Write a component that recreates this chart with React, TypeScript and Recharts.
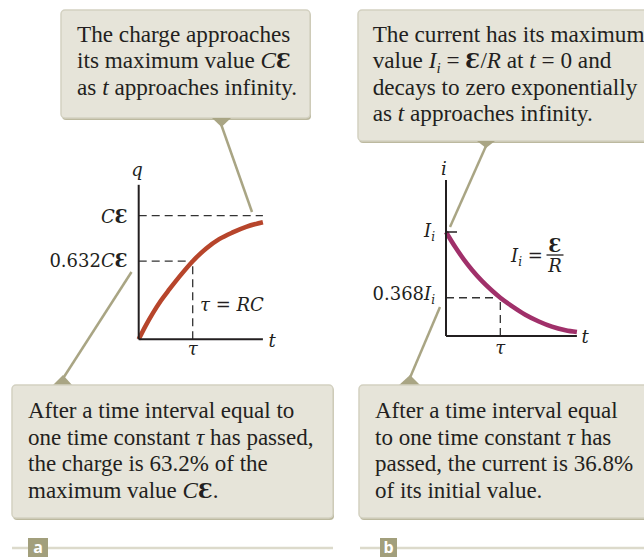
import React from 'react';
import { LineChart, Line, XAxis, YAxis, ReferenceLine } from 'recharts';

// Charging capacitor: charge q (in units of CƐ) against time (in units of τ)
const chargeTime = [0, 0.135, 0.26, 0.41, 0.57, 0.75, 1, 1.25, 1.49, 1.74, 1.99, 2.3];
const chargeValue = [0, 0.115, 0.21, 0.312, 0.405, 0.505, 0.632, 0.735, 0.81, 0.865, 0.91, 0.947];
const chargeTicks = [0.632, 1];
const chargeTickPrefix = ['0.632', ''];

// Charging current: i (in units of I_i) against time (in units of τ)
const currentTime = [0, 0.17, 0.33, 0.48, 0.66, 0.85, 1, 1.22, 1.46, 1.71, 1.95, 2.2, 2.41];
const currentValue = [1, 0.855, 0.735, 0.635, 0.53, 0.435, 0.368, 0.285, 0.205, 0.14, 0.09, 0.056, 0.038];
const currentTicks = [0.368, 1];
const currentTickPrefix = ['0.368', ''];

const timeTicks = [1];
const timeTickLabels = ['τ'];

const chargeData = chargeTime.map((t, k) => ({ t, q: chargeValue[k] }));
const currentData = currentTime.map((t, k) => ({ t, i: currentValue[k] }));

const INK = '#231f20';
const KHAKI = '#a9a584';
const BOX_FILL = '#e6e4d9';
const textFont = '"Liberation Serif", "Times New Roman", serif';
const mathFont = '"DejaVu Serif", serif';
const DASH = '8 5';

const ChargeTick = (props: any) => {
  const { x, y, payload } = props;
  const k = chargeTicks.indexOf(payload.value);
  return (
    <text x={x - 11} y={y + (k === 1 ? 7 : 6)} textAnchor="end" fontFamily={mathFont} fontSize={18} fill={INK}>
      {chargeTickPrefix[k]}
      <tspan fontStyle="italic">C</tspan>
      <tspan fontWeight="bold">Ɛ</tspan>
    </text>
  );
};

const CurrentTick = (props: any) => {
  const { x, y, payload } = props;
  const k = currentTicks.indexOf(payload.value);
  return (
    <g>
      {k === 1 && <line x1={x} x2={x + 11} y1={y} y2={y} stroke={INK} strokeWidth={1.5} />}
      <text x={x - 11} y={y + (k === 1 ? 5 : 2)} textAnchor="end" fontFamily={mathFont} fontSize={18} fill={INK}>
        {currentTickPrefix[k]}
        <tspan fontStyle="italic">I</tspan>
        <tspan fontStyle="italic" fontSize={12} dy={4}>i</tspan>
      </text>
    </g>
  );
};

const makeTimeTick = (dy: number) => (props: any) => {
  const { x, y, payload } = props;
  const k = timeTicks.indexOf(payload.value);
  return (
    <text x={x} y={y + dy} textAnchor="middle" fontFamily={mathFont} fontStyle="italic" fontSize={18} fill={INK}>
      {timeTickLabels[k]}
    </text>
  );
};

type Seg = { s: string; it?: boolean; b?: boolean; sub?: boolean };

function Lines({ x, y0, gap, size, lines }: { x: number; y0: number; gap: number; size: number; lines: Seg[][] }) {
  return (
    <g fontFamily={textFont} fontSize={size} fill={INK}>
      {lines.map((segs, li) => {
        let shift = 0;
        return (
          <text key={li} x={x} y={y0 + li * gap}>
            {segs.map((g, k) => {
              let dy = 0;
              if (g.sub) {
                dy = size * 0.22 - shift;
                shift = size * 0.22;
              } else if (shift) {
                dy = -shift;
                shift = 0;
              }
              return (
                <tspan
                  key={k}
                  dy={dy || undefined}
                  fontStyle={g.it || g.sub ? 'italic' : undefined}
                  fontWeight={g.b ? 'bold' : undefined}
                  fontFamily={g.b ? mathFont : undefined}
                  fontSize={g.sub ? size * 0.65 : g.b ? size * 0.9 : undefined}
                >
                  {g.s}
                </tspan>
              );
            })}
          </text>
        );
      })}
    </g>
  );
}

function Callout({ x, y, w, h }: { x: number; y: number; w: number; h: number }) {
  return (
    <g>
      <rect x={x + 1} y={y + 2} width={w} height={h} rx={4} fill="#bcb99f" />
      <rect x={x} y={y} width={w} height={h} rx={4} fill={BOX_FILL} stroke="#d3d1c1" strokeWidth={1.5} />
    </g>
  );
}

function Annotations() {
  return (
    <svg width={644} height={557} style={{ position: 'absolute', left: 0, top: 0, pointerEvents: 'none' }}>
      {/* leader lines */}
      <g stroke={KHAKI} strokeWidth={2.5} fill="none">
        <line x1={221} y1={124} x2={252} y2={212} />
        <line x1={486} y1={146} x2={450} y2={227} />
        <line x1={62} y1={380} x2={131.5} y2={272} />
        <line x1={409} y1={380} x2={440} y2={307} />
      </g>
      {/* top callouts */}
      <Callout x={61} y={10} w={249} h={108} />
      <polygon points="212,118 231,118 221.5,127" fill={KHAKI} />
      <Callout x={358} y={10} w={310} h={131} />
      <polygon points="477,141 495,141 486,148" fill={KHAKI} />
      {/* bottom callouts */}
      <polygon points="52,386 73,386 63,375" fill={KHAKI} />
      <Callout x={12} y={385} w={321} h={133} />
      <polygon points="398,386 421,386 410,375" fill={KHAKI} />
      <Callout x={359} y={385} w={310} h={133} />

      <Lines
        x={77}
        y0={41.7}
        gap={26.7}
        size={23.2}
        lines={[
          [{ s: 'The charge approaches' }],
          [{ s: 'its maximum value ' }, { s: 'C', it: true }, { s: 'Ɛ', b: true }],
          [{ s: 'as ' }, { s: 't', it: true }, { s: ' approaches infinity.' }],
        ]}
      />
      <Lines
        x={372.7}
        y0={41.7}
        gap={26.4}
        size={23.2}
        lines={[
          [{ s: 'The current has its maximum' }],
          [
            { s: 'value ' },
            { s: 'I', it: true },
            { s: 'i', sub: true },
            { s: ' = ' },
            { s: 'Ɛ', b: true },
            { s: '/' },
            { s: 'R', it: true },
            { s: ' at ' },
            { s: 't', it: true },
            { s: ' = 0 and' },
          ],
          [{ s: 'decays to zero exponentially' }],
          [{ s: 'as ' }, { s: 't', it: true }, { s: ' approaches infinity.' }],
        ]}
      />
      <Lines
        x={28}
        y0={418.3}
        gap={26.5}
        size={23}
        lines={[
          [{ s: 'After a time interval equal to' }],
          [{ s: 'one time constant ' }, { s: 'τ', it: true }, { s: ' has passed,' }],
          [{ s: 'the charge is 63.2% of the' }],
          [{ s: 'maximum value ' }, { s: 'C', it: true }, { s: 'Ɛ', b: true }, { s: '.' }],
        ]}
      />
      <Lines
        x={375}
        y0={418.3}
        gap={26.5}
        size={23}
        lines={[
          [{ s: 'After a time interval equal' }],
          [{ s: 'to one time constant ' }, { s: 'τ', it: true }, { s: ' has' }],
          [{ s: 'passed, the current is 36.8%' }],
          [{ s: 'of its initial value.' }],
        ]}
      />

      {/* axis names and formulas */}
      <g fontFamily={mathFont} fontStyle="italic" fontSize={18} fill={INK}>
        <text x={137} y={176} textAnchor="middle">q</text>
        <text x={272} y={347} textAnchor="middle">t</text>
        <text x={444} y={175} textAnchor="middle">i</text>
        <text x={585} y={343} textAnchor="middle">t</text>
        <text x={200} y={311}>
          τ<tspan fontStyle="normal"> = </tspan>RC
        </text>
        <text x={511} y={262}>
          I<tspan fontSize={12} dy={4}>i</tspan>
          <tspan fontStyle="normal" dy={-4}> = </tspan>
        </text>
        <text x={555} y={252} textAnchor="middle" fontStyle="normal" fontWeight="bold">Ɛ</text>
        <line x1={546.5} x2={563.5} y1={255} y2={255} stroke={INK} strokeWidth={1.3} />
        <text x={555} y={272} textAnchor="middle">R</text>
      </g>

      {/* panel labels */}
      <line x1={12} x2={333} y1={548} y2={548} stroke="#dcdacb" strokeWidth={2.5} />
      <line x1={360} x2={644} y1={548} y2={548} stroke="#dcdacb" strokeWidth={2.5} />
      <rect x={28} y={538} width={20} height={19} fill="#a29f7c" />
      <rect x={380} y={538} width={17} height={19} fill="#a29f7c" />
      <g fontFamily='"Open Sans", sans-serif' fontWeight="bold" fontSize={16} fill="#ffffff" textAnchor="middle">
        <text x={38} y={553}>a</text>
        <text x={388.5} y={553}>b</text>
      </g>
    </svg>
  );
}

export default function App() {
  return (
    <div style={{ position: 'fixed', left: 0, top: 0, width: 644, height: 557, background: '#ffffff', overflow: 'hidden' }}>
      <div style={{ position: 'absolute', left: 40, top: 160 }}>
        <LineChart width={250} height={200} data={chargeData} margin={{ top: 24.8, right: 27.1, bottom: 19.7, left: 97.7 }}>
          <XAxis
            type="number"
            dataKey="t"
            domain={[0, 2.3]}
            ticks={timeTicks}
            height={1}
            tickSize={0}
            tickMargin={0}
            tickLine={false}
            axisLine={{ stroke: INK, strokeWidth: 2 }}
            tick={makeTimeTick(16)}
            interval={0}
          />
          <YAxis
            type="number"
            domain={[0, 1.25]}
            ticks={chargeTicks}
            width={1}
            tickSize={0}
            tickMargin={0}
            tickLine={false}
            axisLine={{ stroke: INK, strokeWidth: 2 }}
            tick={<ChargeTick />}
            interval={0}
          />
          <ReferenceLine segment={[{ x: 0, y: 1 }, { x: 2.3, y: 1 }]} stroke="#333" strokeWidth={1.3} strokeDasharray={DASH} />
          <ReferenceLine segment={[{ x: 0, y: 0.632 }, { x: 1, y: 0.632 }]} stroke="#333" strokeWidth={1.3} strokeDasharray={DASH} />
          <ReferenceLine segment={[{ x: 1, y: 0 }, { x: 1, y: 0.632 }]} stroke="#333" strokeWidth={1.3} strokeDasharray={DASH} />
          <Line type="monotone" dataKey="q" stroke="#b7452b" strokeWidth={4.5} dot={false} isAnimationActive={false} />
        </LineChart>
      </div>
      <div style={{ position: 'absolute', left: 340, top: 160 }}>
        <LineChart width={270} height={200} data={currentData} margin={{ top: 20, right: 33.1, bottom: 23, left: 105 }}>
          <XAxis
            type="number"
            dataKey="t"
            domain={[0, 2.41]}
            ticks={timeTicks}
            height={1}
            tickSize={0}
            tickMargin={0}
            tickLine={false}
            axisLine={{ stroke: INK, strokeWidth: 2 }}
            tick={makeTimeTick(18)}
            interval={0}
          />
          <YAxis
            type="number"
            domain={[0, 1.5]}
            ticks={currentTicks}
            width={1}
            tickSize={0}
            tickMargin={0}
            tickLine={false}
            axisLine={{ stroke: INK, strokeWidth: 2 }}
            tick={<CurrentTick />}
            interval={0}
          />
          <ReferenceLine segment={[{ x: 0, y: 0.368 }, { x: 1, y: 0.368 }]} stroke="#333" strokeWidth={1.3} strokeDasharray={DASH} />
          <ReferenceLine segment={[{ x: 1, y: 0 }, { x: 1, y: 0.368 }]} stroke="#333" strokeWidth={1.3} strokeDasharray={DASH} />
          <Line type="monotone" dataKey="i" stroke="#a0306a" strokeWidth={4.5} dot={false} isAnimationActive={false} />
        </LineChart>
      </div>
      <Annotations />
    </div>
  );
}
